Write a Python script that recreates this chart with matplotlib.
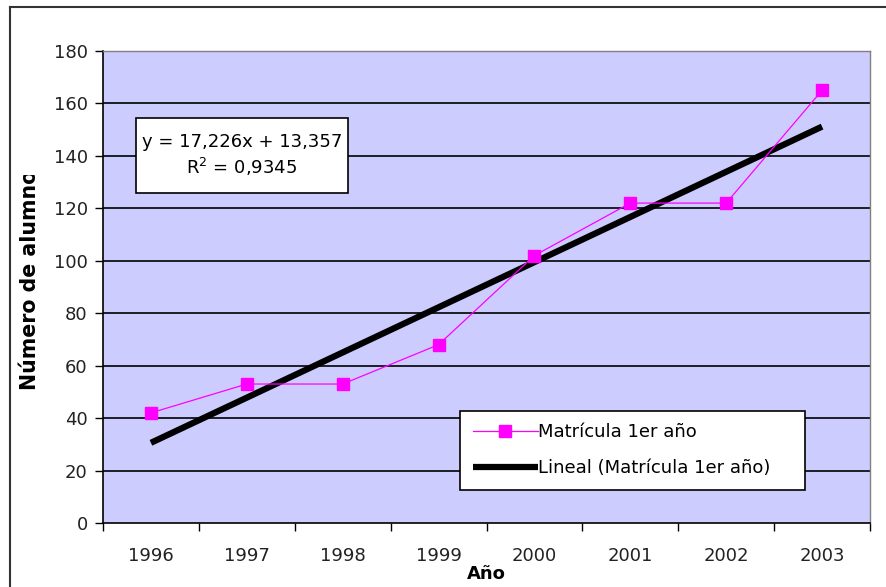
import matplotlib
matplotlib.use('Agg')
import matplotlib.pyplot as plt
from matplotlib.patches import Rectangle
from matplotlib.transforms import Bbox, TransformedBbox
import numpy as np

plt.rcParams['font.family'] = ['DejaVu Sans']
plt.rcParams['mathtext.fontset'] = 'dejavusans'

# matricula de primer año por año
anios = ['1996', '1997', '1998', '1999', '2000', '2001', '2002', '2003']
matricula = [42, 53, 53, 68, 102, 122, 122, 165]
pendiente = 17.226
intercepto = 13.357
r2 = 0.9345

x = np.arange(1, len(anios) + 1)
tendencia = pendiente * x + intercepto

fig = plt.figure(figsize=(8.86, 5.87), dpi=100)
ax = fig.add_axes([103/886, 64/587, 767/886, 472/587])
ax.set_facecolor('#CCCCFF')

for v in range(20, 181, 20):
    ax.axhline(v, color='black', lw=1.2, zorder=1)

ax.plot(x, tendencia, color='black', lw=4.5, solid_capstyle='butt', zorder=3,
        label='Lineal (Matrícula 1er año)')
ax.plot(x, matricula, color='#FF00FF', lw=0.9, marker='s', ms=8,
        markerfacecolor='#FF00FF', markeredgecolor='#FF00FF', zorder=4,
        label='Matrícula 1er año')

ax.set_xlim(0.5, len(anios) + 0.5)
ax.set_ylim(0, 180)
ax.set_yticks(range(0, 181, 20))
ax.tick_params(axis='y', direction='out', length=6, width=1, labelsize=13, pad=5,
               colors='black', labelcolor='#222222')

# ticks mayores entre categorias, etiquetas centradas
ax.set_xticks(np.arange(0.5, len(anios) + 1, 1))
ax.set_xticklabels([])
ax.set_xticks(x, minor=True)
ax.set_xticklabels(anios, minor=True)
ax.tick_params(axis='x', which='major', direction='out', length=6, width=1)
ax.tick_params(axis='x', which='minor', length=0, labelsize=13, pad=17, labelcolor='#222222')

for s in ['top', 'right']:
    ax.spines[s].set_color('#808080')
    ax.spines[s].set_linewidth(1)
for s in ['left', 'bottom']:
    ax.spines[s].set_color('black')
    ax.spines[s].set_linewidth(1.2)

ax.set_xlabel('Año', fontsize=13, fontweight='bold')
ax.xaxis.set_label_coords(0.5, -0.088)

# titulo del eje y recortado como en la hoja de calculo
yl = fig.text(30/886, (587-390)/587, 'Número de alumnos', rotation=90,
              fontsize=14.8, fontweight='bold', ha='center', va='bottom')
yl.set_clip_box(TransformedBbox(Bbox([[0, 0], [1, (587-175)/587]]), fig.transFigure))
yl.set_clip_on(True)

# cuadro con la ecuacion de la recta
ax.add_patch(Rectangle((0.844, 125.9), 3.055 - 0.844, 154.5 - 125.9,
                       facecolor='white', edgecolor='black', lw=1.2, zorder=5))
ec = f'y = {pendiente:.3f}x + {intercepto:.3f}'.replace('.', ',')
ax.text(1.95, 140.2, ec + '\n' + 'R$^{2}$ = ' + f'{r2:.4f}'.replace('.', ','),
        ha='center', va='center', fontsize=13, linespacing=1.3, zorder=6)

h, l = ax.get_legend_handles_labels()
leg = ax.legend(h[::-1], l[::-1], loc='lower left',
                bbox_to_anchor=(0.4655, 0.0699, 0.4495, 0.167), mode='expand',
                fontsize=13, frameon=True, fancybox=False, framealpha=1, borderaxespad=0,
                handlelength=3.6, handletextpad=0.0, borderpad=0.7, labelspacing=1.0)
leg.get_frame().set_edgecolor('black')
leg.get_frame().set_linewidth(1.2)
leg.set_zorder(7)

# marco exterior del grafico
fig.add_artist(plt.Line2D([10/886, 10/886], [0, (587-7)/587], color='#333333', lw=1.5,
                          transform=fig.transFigure))
fig.add_artist(plt.Line2D([10/886, 1], [(587-7)/587, (587-7)/587], color='#333333', lw=1.5,
                          transform=fig.transFigure))

fig.savefig('out.png', dpi=100)
